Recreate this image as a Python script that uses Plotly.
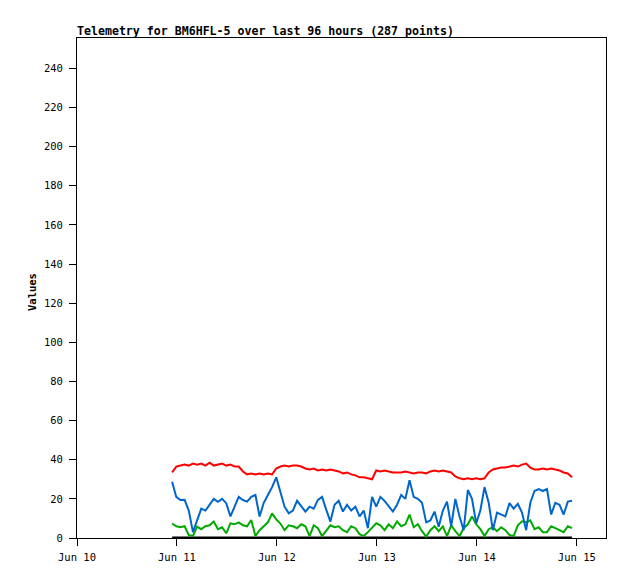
import plotly.graph_objects as go
import pandas as pd

# ---- data (hourly readings) ----
start_time = "2024-06-10 22:50"
n_points = 97

red_values = [33.5, 36.5, 37, 37.5, 37, 38, 37.5, 38, 37, 38.5,
              37, 37.5, 38, 37, 37.5, 36.5, 36.5, 34, 32.5, 33,
              32.5, 33, 32.5, 33, 32.5, 35.5, 36.5, 37, 36.5, 37,
              37, 36.5, 35.5, 35, 35.5, 34.5, 35, 34.5, 35, 34.5,
              34, 33, 33.5, 32.5, 32, 31, 31, 30.5, 30, 34.5,
              34, 34.5, 34, 33.5, 33.5, 33.5, 34, 33.5, 33, 33.5,
              33.5, 33, 34, 34.5, 34, 34.5, 34, 33.5, 31.5, 30.5,
              30, 30.5, 30, 30.5, 30, 30.5, 33.5, 35, 35.5, 36,
              36, 36.5, 37, 36.5, 37.5, 38, 36, 35, 35, 35.5,
              35, 35.5, 35, 34.5, 33.5, 33, 31]

blue_values = [28.7, 21, 19.4, 19.5, 14, 3, 9, 15, 14, 17,
               20, 18.5, 20, 17.8, 11, 16, 21, 19.4, 18.6, 21,
               22, 11, 18, 22, 26, 31, 24, 16, 12.6, 14,
               19, 16, 13.5, 16, 15, 19.5, 21, 14.5, 8.4, 17,
               19, 13.5, 17, 14, 16, 11, 14, 5, 21, 16,
               21, 19, 16, 13.5, 17, 22, 20, 29.5, 21, 20,
               18, 8, 9, 13.5, 5.8, 14, 18.6, 6, 20, 11,
               4, 24.5, 20, 7.5, 14, 26, 18, 4, 13, 12,
               11, 17.8, 15, 17.5, 13, 4, 18, 24, 25, 24,
               25, 12, 18, 17, 12, 18.6, 19]

green_values = [7.4, 6, 5.5, 6, 1.5, 1, 5.8, 4.5, 6, 6.5,
                8.4, 4.5, 5.5, 2.4, 7.5, 7, 8, 6.5, 6, 9.2,
                1, 4, 6, 8, 12.6, 9.5, 7.4, 4, 6.5, 6,
                5, 7, 6, 1, 6.5, 5, 1, 4, 6.5, 5.5,
                6, 4, 3, 6, 5, 2, 1, 3, 5.5, 7.5,
                6.5, 4, 7, 5, 8.5, 6, 7, 12, 5.5, 7,
                3.5, 0.7, 4, 6, 3.5, 6, 1, 6.5, 3.5, 1,
                5, 7, 11, 7, 4.5, 1, 4.5, 5.5, 3.5, 5.5,
                4, 1.5, 1, 6.5, 8.5, 8, 9, 4.5, 5.5, 3,
                3, 6, 5, 4, 3, 6, 5]

black_values = [0] * n_points

tick_dates = ["2024-06-10", "2024-06-11", "2024-06-12", "2024-06-13", "2024-06-14", "2024-06-15"]
tick_labels = ["Jun 10", "Jun 11", "Jun 12", "Jun 13", "Jun 14", "Jun 15"]
y_ticks = list(range(0, 241, 20))

times = pd.date_range(start=start_time, periods=n_points, freq="h")
assert len(red_values) == n_points and len(blue_values) == n_points and len(green_values) == n_points

fig = go.Figure()
series = [
    (black_values, "#000000", 3),
    (green_values, "#00aa00", 2),
    (blue_values, "#0066cc", 2),
    (red_values, "#ff0000", 2),
]
for vals, col, w in series:
    fig.add_trace(go.Scatter(x=times, y=vals, mode="lines",
                             line=dict(color=col, width=w), showlegend=False,
                             hoverinfo="skip"))

# page body has an 8px margin, so the figure is sized/offset to compensate
W, H = 602, 563
mono = "DejaVu Sans Mono"
fig.update_layout(
    width=W, height=H,
    margin=dict(l=69, r=4, t=30, b=33, autoexpand=False),
    paper_bgcolor="white", plot_bgcolor="white",
    font=dict(family=mono, size=10, color="black"),
    title=dict(text="<b>Telemetry for BM6HFL-5 over last 96 hours (287 points)</b>",
               font=dict(family=mono, size=11.6, color="black"),
               x=69 / W, xanchor="left", xref="container",
               y=1 - 23 / H, yanchor="middle", yref="container"),
    xaxis=dict(type="date", range=["2024-06-10 00:00", "2024-06-15 07:00"],
               tickvals=tick_dates, ticktext=tick_labels,
               showgrid=False, zeroline=False,
               showline=True, mirror=True, linecolor="black", linewidth=1,
               ticks="outside", ticklen=7, tickwidth=1, tickcolor="black",
               ticklabelstandoff=2,
               tickfont=dict(family=mono, size=10.5, color="black")),
    yaxis=dict(range=[0, 255.5], tickvals=y_ticks,
               showgrid=False, zeroline=False,
               showline=True, mirror=True, linecolor="black", linewidth=1,
               ticks="outside", ticklen=7, tickwidth=1, tickcolor="black",
               ticklabelstandoff=4,
               tickfont=dict(family=mono, size=10.5, color="black")),
    annotations=[dict(text="<b>Values</b>", textangle=-90,
                      xref="paper", yref="paper",
                      x=(24 - 69) / 529, y=(530 - 284) / 500,
                      xanchor="center", yanchor="middle", showarrow=False,
                      font=dict(family=mono, size=10.5, color="black"))],
)

fig.write_html("out.html")
